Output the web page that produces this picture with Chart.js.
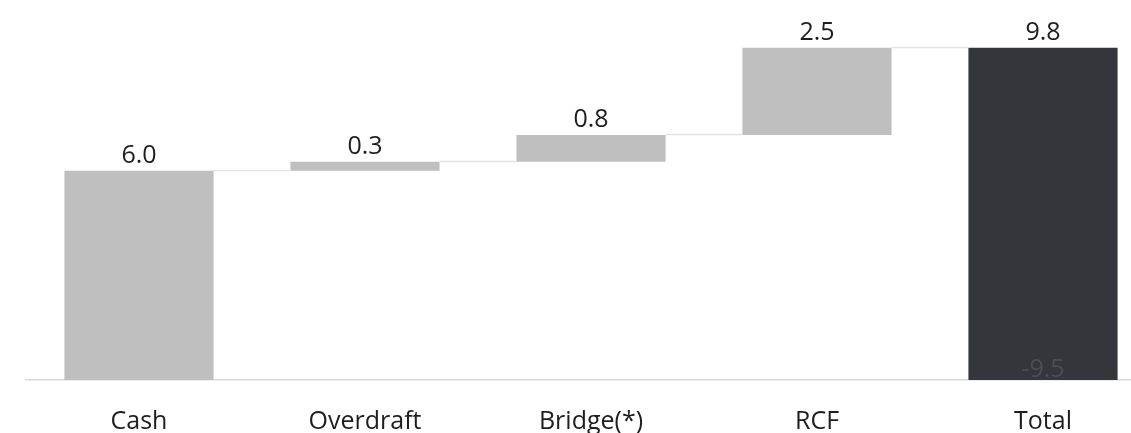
<!DOCTYPE html>
<html>
<head>
<meta charset="utf-8">
<script src="https://cdn.jsdelivr.net/npm/chart.js@4"></script>
<style>
  html, body { margin: 0; padding: 0; background: #fff; overflow: hidden; }
  #wrap { width: 1160px; height: 464px; position: relative; }
</style>
</head>
<body>
<div id="wrap"><canvas id="waterfall"></canvas></div>
<script>
var categories = ['Cash', 'Overdraft', 'Bridge(*)', 'RCF', 'Total'];
var steps = [6.0, 0.26, 0.77, 2.5];
var totalValue = 9.53;
var valueLabels = ['6.0', '0.3', '0.8', '2.5', '9.8'];
var totalInnerLabel = '-9.5';

var stepColor = '#bfbfbf';
var totalColor = '#33363a';

// build floating bars from the running total
var floating = [];
var running = 0;
steps.forEach(function(s) {
  floating.push([running, running + s]);
  running += s;
});
floating.push([0, totalValue]);

var colors = categories.map(function(c, i) {
  return i === categories.length - 1 ? totalColor : stepColor;
});

var labelPlugin = {
  id: 'wfLabels',
  afterDatasetsDraw: function(chart) {
    var ctx = chart.ctx;
    var meta = chart.getDatasetMeta(0);
    var yScale = chart.scales.y;
    ctx.save();

    // connectors between bars
    ctx.strokeStyle = '#e3e3e3';
    ctx.lineWidth = 1.5;
    for (var i = 0; i < meta.data.length - 1; i++) {
      var a = meta.data[i], b = meta.data[i + 1];
      var y = Math.round(yScale.getPixelForValue(floating[i][1])) - 0.5;
      ctx.beginPath();
      ctx.moveTo(a.x + a.width / 2, y);
      ctx.lineTo(b.x - b.width / 2, y);
      ctx.stroke();
    }

    ctx.font = '25px "Open Sans"';
    ctx.textAlign = 'center';
    ctx.textBaseline = 'alphabetic';
    ctx.fillStyle = '#1e1e1e';
    meta.data.forEach(function(bar, i) {
      ctx.fillText(valueLabels[i], bar.x, bar.y - 8);
    });

    var last = meta.data[meta.data.length - 1];
    ctx.fillStyle = '#4a4d51';
    ctx.fillText(totalInnerLabel, last.x, last.base - 3);
    ctx.restore();
  }
};

document.addEventListener('DOMContentLoaded', function() {
  new Chart(document.getElementById('waterfall'), {
    type: 'bar',
    data: {
      labels: categories,
      datasets: [{
        data: floating,
        backgroundColor: colors,
        borderWidth: 0,
        categoryPercentage: 1,
        barPercentage: 0.66
      }]
    },
    options: {
      responsive: true,
      maintainAspectRatio: false,
      animation: false,
      layout: { padding: { left: 26, right: 4, top: 14, bottom: 0 } },
      plugins: { legend: { display: false }, tooltip: { enabled: false } },
      scales: {
        x: {
          grid: { display: false, drawTicks: false },
          border: { display: true, color: '#d9d9d9', width: 1.5 },
          ticks: { color: '#1e1e1e', padding: 27, font: { family: 'Open Sans', size: 25 } }
        },
        y: {
          display: false,
          min: 0,
          max: 10.5
        }
      }
    },
    plugins: [labelPlugin]
  });
});
</script>
</body>
</html>
